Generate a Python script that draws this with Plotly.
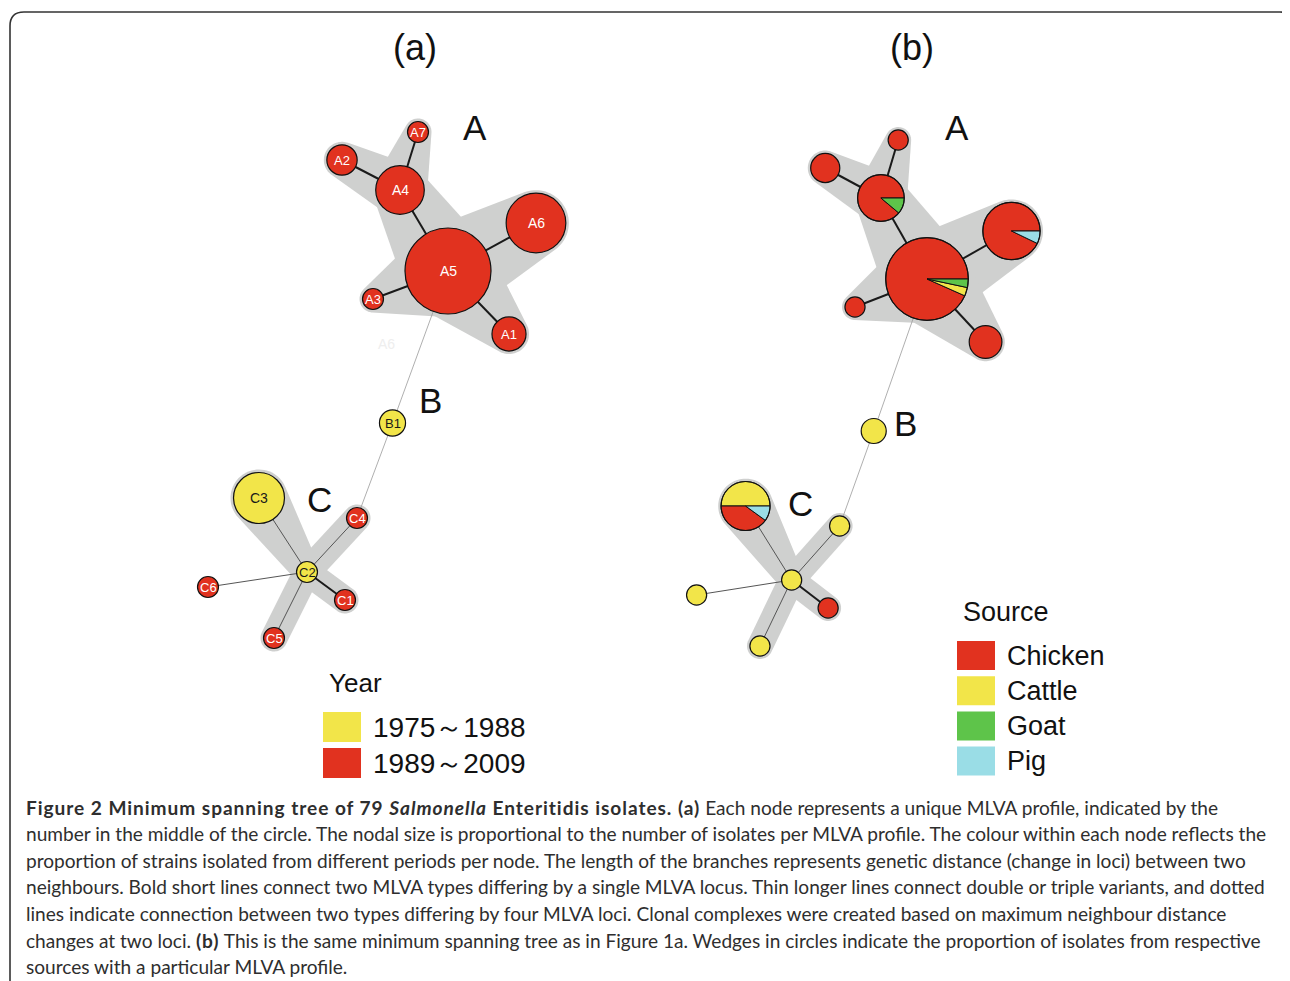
import numpy as np
import plotly.graph_objects as go

W, H = 1290, 981
OFF = 8  # page body margin of the browser

# ---------------- data ----------------
node_ids = ["A1", "A2", "A3", "A4", "A5", "A6", "A7", "B1", "C1", "C2", "C3", "C4", "C5", "C6"]
# minimum-spanning-tree layout (layout units)
node_x = [509, 342, 373, 400, 448, 536, 418, 392.5, 345, 307, 259, 357, 274, 208]
node_y = [334, 160, 299, 190, 271, 223, 132, 423, 600, 572, 498, 518, 638, 587]
isolates = [4, 3, 1, 9, 30, 14, 1, 2, 1, 1, 10, 1, 1, 1]

# panel (a): year period of isolation
year_labels = ["1975\uff5e1988", "1989\uff5e2009"]
year_early = [0, 0, 0, 0, 0, 0, 0, 2, 0, 1, 10, 0, 0, 0]
year_late = [4, 3, 1, 9, 30, 14, 1, 0, 1, 0, 0, 1, 1, 1]
year_colors = ["#f2e549", "#e1321f"]

# panel (b): source
source_labels = ["Chicken", "Cattle", "Goat", "Pig"]
src_chicken = [4, 3, 1, 8, 28, 13, 1, 0, 1, 0, 4, 0, 0, 0]
src_cattle = [0, 0, 0, 0, 1, 0, 0, 2, 0, 1, 5, 1, 1, 1]
src_goat = [0, 0, 0, 1, 1, 0, 0, 0, 0, 0, 0, 0, 0, 0]
src_pig = [0, 0, 0, 0, 0, 1, 0, 0, 0, 0, 1, 0, 0, 0]
source_colors = ["#e1321f", "#f2e549", "#5ec44a", "#9adde6"]

# edges: (from, to, style); style bold = single-locus, thin = 2-3 loci, faint = distant
edges = [("A5", "A4", "bold"), ("A4", "A2", "bold"), ("A4", "A7", "bold"),
         ("A5", "A6", "bold"), ("A5", "A3", "bold"), ("A5", "A1", "bold"),
         ("A5", "B1", "faint"), ("B1", "C4", "faint"),
         ("C2", "C4", "thin"), ("C2", "C3", "thin"), ("C2", "C5", "thin"),
         ("C2", "C6", "thin"), ("C2", "C1", "bold")]
# clonal-complex shading follows these edges
complex_edges = [("A5", "A4"), ("A4", "A2"), ("A4", "A7"), ("A5", "A6"), ("A5", "A3"),
                 ("A5", "A1"), ("C2", "C3"), ("C2", "C4"), ("C2", "C5"), ("C2", "C1")]

cluster_names = ["A", "B", "C"]
cluster_pos_a = [(475, 127), (430, 400), (319, 499)]
cluster_pos_b = [(957, 127), (905, 423), (800, 503)]

BS = "<b><span style='letter-spacing:0.95px'>"
BE = "</span></b>"
caption_lines = [
    BS + "Figure 2 Minimum spanning tree of 79 <i>Salmonella</i> Enteritidis isolates. (a)" + BE
    + " Each node represents a unique MLVA profile, indicated by the",
    "number in the middle of the circle. The nodal size is proportional to the number of isolates per MLVA profile. The colour within each node reflects the",
    "proportion of strains isolated from different periods per node. The length of the branches represents genetic distance (change in loci) between two",
    "neighbours. Bold short lines connect two MLVA types differing by a single MLVA locus. Thin longer lines connect double or triple variants, and dotted",
    "lines indicate connection between two types differing by four MLVA loci. Clonal complexes were created based on maximum neighbour distance",
    "changes at two loci. " + BS + "(b)" + BE + " This is the same minimum spanning tree as in Figure 1a. Wedges in circles indicate the proportion of isolates from respective",
    "sources with a particular MLVA profile.",
]

# ---------------- helpers ----------------
idx = {n: i for i, n in enumerate(node_ids)}
radius = [np.sqrt(50 + 60 * n) for n in isolates]

panels = {
    "a": dict(x0=448, cx=448, sx=1.0, dy=0.0),
    "b": dict(x0=448, cx=927, sx=0.96, dy=8.0),
}


def tf(p, x, y, r):
    P = panels[p]
    return P["cx"] + P["sx"] * (x - P["x0"]), y + P["dy"], r * P["sx"]


def path_from(pts):
    return "M " + " L ".join(f"{x:.2f},{y:.2f}" for x, y in pts) + " Z"


def capsule(x1, y1, r1, x2, y2, r2):
    d = np.hypot(x2 - x1, y2 - y1)
    phi = np.arctan2(y2 - y1, x2 - x1)
    alpha = np.arccos(np.clip((r1 - r2) / d, -1, 1))
    a2 = phi + np.linspace(alpha, -alpha, 40)
    a1 = phi + np.linspace(-alpha, -2 * np.pi + alpha, 80)
    pts = [(x2 + r2 * np.cos(t), y2 + r2 * np.sin(t)) for t in a2]
    pts += [(x1 + r1 * np.cos(t), y1 + r1 * np.sin(t)) for t in a1]
    return path_from(pts)


shapes = []
annotations = []

edge_style = {"bold": dict(color="#1a1a1a", width=2.0),
              "thin": dict(color="#555555", width=1.0),
              "faint": dict(color="#9a9a9a", width=0.8)}


def draw_panel(p, comps, colors, labels):
    pad = 3
    for a, b in complex_edges:
        i, j = idx[a], idx[b]
        x1, y1, r1 = tf(p, node_x[i], node_y[i], radius[i] + pad)
        x2, y2, r2 = tf(p, node_x[j], node_y[j], radius[j] + pad)
        shapes.append(dict(type="path", path=capsule(x1, y1, r1, x2, y2, r2),
                           fillcolor="#cfd0cf", line=dict(width=0), layer="above"))
    for a, b, s in edges:
        i, j = idx[a], idx[b]
        x1, y1, _ = tf(p, node_x[i], node_y[i], 0)
        x2, y2, _ = tf(p, node_x[j], node_y[j], 0)
        shapes.append(dict(type="line", x0=x1, y0=y1, x1=x2, y1=y2, line=edge_style[s]))
    for k, nid in enumerate(node_ids):
        cx, cy, r = tf(p, node_x[k], node_y[k], radius[k])
        vals = [c[k] for c in comps]
        total = sum(vals)
        order = sorted(range(len(vals)), key=lambda m: -vals[m])
        nz = [m for m in order if vals[m] > 0]
        if len(nz) == 1:
            shapes.append(dict(type="circle", x0=cx - r, x1=cx + r, y0=cy - r, y1=cy + r,
                               fillcolor=colors[nz[0]], line=dict(color="#111111", width=1.2)))
        else:
            start = 0.0
            for m in nz:
                ext = 2 * np.pi * vals[m] / total
                th = np.linspace(start, start + ext, max(8, int(ext * 40)))
                pts = [(cx, cy)] + [(cx + r * np.cos(t), cy - r * np.sin(t)) for t in th]
                shapes.append(dict(type="path", path=path_from(pts), fillcolor=colors[m],
                                   line=dict(color="#111111", width=1.0)))
                start += ext
            shapes.append(dict(type="circle", x0=cx - r, x1=cx + r, y0=cy - r, y1=cy + r,
                               fillcolor="rgba(0,0,0,0)", line=dict(color="#111111", width=1.2)))
        if labels:
            dom = order[0]
            annotations.append(dict(x=cx, y=cy, text=nid, showarrow=False,
                                    xanchor="center", yanchor="middle",
                                    font=dict(family="Liberation Sans, Arial", size=14 if r > 20 else 13,
                                              color="#ffffff" if dom == 1 else "#1a1a1a")))


draw_panel("a", [year_early, year_late], year_colors, True)
draw_panel("b", [src_chicken, src_cattle, src_goat, src_pig], source_colors, False)

annotations.append(dict(x=386, y=344, text="A6", showarrow=False,
                        font=dict(family="Liberation Sans, Arial", size=14, color="#eeeeee")))

for name, pa, pb in zip(cluster_names, cluster_pos_a, cluster_pos_b):
    for (x, y) in (pa, pb):
        annotations.append(dict(x=x, y=y, text=name, showarrow=False, xanchor="center", yanchor="middle",
                                font=dict(family="Liberation Sans, Arial", size=35, color="#111111")))

for t, x in (("(a)", 415), ("(b)", 912)):
    annotations.append(dict(x=x, y=47, text=t, showarrow=False, xanchor="center", yanchor="middle",
                            font=dict(family="Liberation Sans, Arial", size=36, color="#111111")))

annotations.append(dict(x=327, y=683, text="Year", showarrow=False, xanchor="left", yanchor="middle",
                        font=dict(family="Liberation Sans, Arial", size=26, color="#111111")))
for k, (lab, col) in enumerate(zip(year_labels, year_colors)):
    yc = 727 + 36 * k
    shapes.append(dict(type="rect", x0=323, x1=361, y0=yc - 15, y1=yc + 15, fillcolor=col,
                       line=dict(width=0)))
    annotations.append(dict(x=371, y=yc, text=lab, showarrow=False, xanchor="left", yanchor="middle",
                            font=dict(family="Liberation Sans, Arial", size=28, color="#111111")))

annotations.append(dict(x=961, y=612, text="Source", showarrow=False, xanchor="left", yanchor="middle",
                        font=dict(family="Liberation Sans, Arial", size=27, color="#111111")))
for k, (lab, col) in enumerate(zip(source_labels, source_colors)):
    yc = 655.5 + 35.2 * k
    shapes.append(dict(type="rect", x0=957, x1=995, y0=yc - 14.5, y1=yc + 14.5, fillcolor=col,
                       line=dict(width=0)))
    annotations.append(dict(x=1005, y=yc, text=lab, showarrow=False, xanchor="left", yanchor="middle",
                            font=dict(family="Liberation Sans, Arial", size=27, color="#111111")))

for k, line in enumerate(caption_lines):
    annotations.append(dict(x=24, y=807 + 26.65 * k, text=line, showarrow=False, xanchor="left",
                            yanchor="middle",
                            font=dict(family="Lato, Open Sans, sans-serif", size=19.1, color="#2e2e2e")))

shapes.append(dict(type="path", path="M 10,990 L 10,26 Q 10,12 24,12 L 1280,12 Q 1289,12 1289,21",
                   line=dict(color="#333333", width=1.6)))

fig = go.Figure()
fig.add_trace(go.Scatter(x=[OFF + 1], y=[OFF + 1], mode="markers", marker=dict(opacity=0),
                         hoverinfo="skip", showlegend=False))
fig.update_layout(
    width=W - OFF, height=H - OFF, margin=dict(l=0, r=0, t=0, b=0),
    paper_bgcolor="white", plot_bgcolor="white",
    xaxis=dict(range=[OFF, W], visible=False, fixedrange=True),
    yaxis=dict(range=[H, OFF], visible=False, fixedrange=True),
    shapes=shapes, annotations=annotations, showlegend=False,
)
fig.write_html("out.html")
